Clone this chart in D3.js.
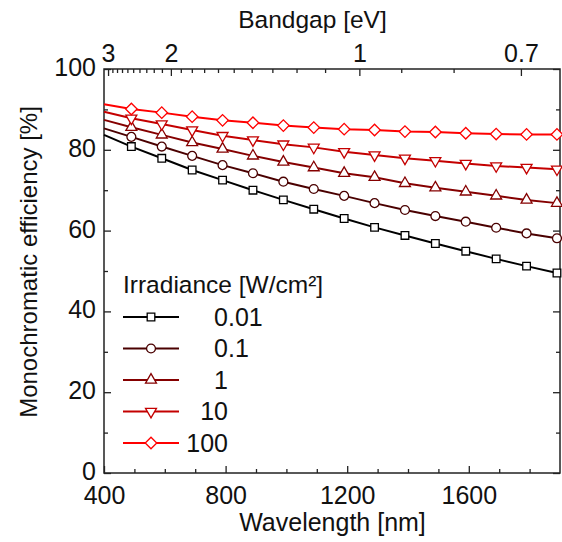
<!DOCTYPE html>
<html>
<head>
<meta charset="utf-8">
<script src="https://cdn.jsdelivr.net/npm/d3@7"></script>
<style>
  html, body { margin: 0; padding: 0; background: #fff; }
  svg { display: block; font-family: "Liberation Sans", Arial, sans-serif; }
</style>
</head>
<body>
<svg id="chart" width="562" height="542"></svg>
<script>
// ---------- data ----------
const wavelengths = [400, 490, 590, 690, 790, 890, 990, 1090, 1190, 1290, 1390, 1490, 1590, 1690, 1790, 1890];
const irradianceLabels = ["0.01", "0.1", "1", "10", "100"];
const eff001 = [83.7, 80.8, 77.9, 75.0, 72.5, 70.0, 67.6, 65.3, 63.0, 60.8, 58.8, 56.8, 54.9, 53.0, 51.2, 49.5];
const eff01  = [85.3, 83.2, 80.8, 78.5, 76.2, 74.2, 72.1, 70.3, 68.6, 66.8, 65.1, 63.6, 62.2, 60.7, 59.3, 58.1];
const eff1   = [87.4, 85.6, 83.7, 81.8, 80.2, 78.5, 77.0, 75.6, 74.2, 73.2, 71.7, 70.6, 69.6, 68.6, 67.6, 66.8];
const eff10  = [89.4, 87.8, 86.4, 84.9, 83.5, 82.4, 81.4, 80.6, 79.5, 78.7, 77.9, 77.3, 76.6, 76.0, 75.6, 75.2];
const eff100 = [91.3, 90.1, 89.2, 88.2, 87.3, 86.7, 86.0, 85.5, 85.1, 84.9, 84.5, 84.4, 84.1, 83.9, 83.8, 83.8];
const xTicks = [400, 800, 1200, 1600];
const xMinorTicks = [500, 600, 700, 900, 1000, 1100, 1300, 1400, 1500, 1700, 1800];
const yTicks = [0, 20, 40, 60, 80, 100];
const yMinorTicks = [10, 30, 50, 70, 90];
const eVTicks = [3, 2, 1, 0.7];
const eVTickLabels = ["3", "2", "1", "0.7"];
const eVMinorTicks = [2.9, 2.8, 2.7, 2.6, 2.5, 2.4, 2.3, 2.2, 2.1, 1.9, 1.8, 1.7, 1.6, 1.5, 1.4, 1.3, 1.2, 1.1, 0.9, 0.8];

// ---------- styles ----------
const seriesValues = [eff001, eff01, eff1, eff10, eff100];
const colors = ["#000000", "#4a0000", "#850000", "#c40000", "#ff0000"];
const shapes = ["square", "circle", "triangle", "triangleDown", "diamond"];

const svg = d3.select("#chart");
const L = 104, R = 560, T = 69, B = 473;
const x = d3.scaleLinear().domain([400, 1900]).range([L, R]);
const y = d3.scaleLinear().domain([0, 100]).range([B, T]);
const axisColor = "#222";
const tickFont = 25;

function styleAxis(g) {
  g.select(".domain").remove();
  g.selectAll(".tick line").attr("stroke", axisColor).attr("stroke-width", 1.3);
  g.selectAll(".tick text").attr("fill", "#111").attr("font-size", tickFont)
    .attr("font-family", "'Liberation Sans', Arial, sans-serif");
}

// bottom axis
svg.append("g").attr("transform", `translate(0,${B})`)
  .call(d3.axisBottom(x).tickValues(xTicks).tickFormat(d3.format("d")).tickSizeInner(-7).tickSizeOuter(0).tickPadding(13.5))
  .call(styleAxis);
svg.append("g").attr("transform", `translate(0,${B})`)
  .call(d3.axisBottom(x).tickValues(xMinorTicks).tickFormat("").tickSizeInner(-4).tickSizeOuter(0))
  .call(styleAxis);

// top axis (bandgap = 1240 / wavelength)
svg.append("g").attr("transform", `translate(0,${T})`)
  .call(d3.axisTop(x).tickValues(eVTicks.map(e => 1240 / e)).tickFormat((d, i) => eVTickLabels[i]).tickSizeInner(-7).tickSizeOuter(0).tickPadding(7))
  .call(styleAxis);
svg.append("g").attr("transform", `translate(0,${T})`)
  .call(d3.axisTop(x).tickValues(eVMinorTicks.map(e => 1240 / e)).tickFormat("").tickSizeInner(-4).tickSizeOuter(0))
  .call(styleAxis);

// left axis
svg.append("g").attr("transform", `translate(${L},0)`)
  .call(d3.axisLeft(y).tickValues(yTicks).tickFormat(d3.format("d")).tickSizeInner(-7).tickSizeOuter(0).tickPadding(8))
  .call(styleAxis)
  .call(g => g.selectAll(".tick text").attr("dy", "0.26em"));
svg.append("g").attr("transform", `translate(${L},0)`)
  .call(d3.axisLeft(y).tickValues(yMinorTicks).tickFormat("").tickSizeInner(-4).tickSizeOuter(0))
  .call(styleAxis);

// right axis (mirror)
svg.append("g").attr("transform", `translate(${R},0)`)
  .call(d3.axisRight(y).tickValues(yTicks).tickFormat("").tickSizeInner(-7).tickSizeOuter(0))
  .call(styleAxis);
svg.append("g").attr("transform", `translate(${R},0)`)
  .call(d3.axisRight(y).tickValues(yMinorTicks).tickFormat("").tickSizeInner(-4).tickSizeOuter(0))
  .call(styleAxis);

// frame
svg.append("rect").attr("x", L).attr("y", T).attr("width", R - L).attr("height", B - T)
  .attr("fill", "none").attr("stroke", axisColor).attr("stroke-width", 1.5);

// titles
svg.append("text").attr("x", 332.5).attr("y", 531).attr("text-anchor", "middle")
  .attr("font-size", 25).attr("fill", "#111").text("Wavelength [nm]");
svg.append("text").attr("x", 312.5).attr("y", 28).attr("text-anchor", "middle")
  .attr("font-size", 24.5).attr("fill", "#111").text("Bandgap [eV]");
svg.append("text").attr("transform", "translate(37,262) rotate(-90)").attr("text-anchor", "middle")
  .attr("font-size", 24).attr("fill", "#111").text("Monochromatic efficiency [%]");

// markers
function markerPath(shape) {
  switch (shape) {
    case "square": return d3.symbol(d3.symbolSquare, 58)();
    case "circle": return d3.symbol(d3.symbolCircle, 62)();
    case "triangle": return d3.symbol(d3.symbolTriangle, 52)();
    case "triangleDown": return d3.symbol(d3.symbolTriangle, 52)();
    case "diamond": return d3.symbol(d3.symbolSquare, 66)();
  }
}
function markerRot(shape) {
  if (shape === "triangleDown") return 180;
  if (shape === "diamond") return 45;
  return 0;
}

const line = d3.line().x(d => x(d[0])).y(d => y(d[1]));
const plot = svg.append("g");
seriesValues.forEach((vals, si) => {
  const pts = wavelengths.map((w, i) => [w, vals[i]]);
  plot.append("path").datum(pts).attr("d", line)
    .attr("fill", "none").attr("stroke", colors[si]).attr("stroke-width", 2);
});
seriesValues.forEach((vals, si) => {
  const pts = wavelengths.map((w, i) => [w, vals[i]]).slice(1);
  plot.selectAll(null).data(pts).enter().append("path")
    .attr("d", markerPath(shapes[si]))
    .attr("transform", d => `translate(${x(d[0])},${y(d[1])}) rotate(${markerRot(shapes[si])})`)
    .attr("fill", "#fff").attr("stroke", colors[si]).attr("stroke-width", 1.3);
});

// legend
const leg = svg.append("g");
leg.append("text").attr("x", 123).attr("y", 293).attr("font-size", 24.5).attr("fill", "#111")
  .text("Irradiance [W/cm²]");
irradianceLabels.forEach((lab, i) => {
  const ry = 317 + i * 31.5;
  leg.append("line").attr("x1", 123).attr("x2", 179).attr("y1", ry).attr("y2", ry)
    .attr("stroke", colors[i]).attr("stroke-width", 2);
  leg.append("path").attr("d", markerPath(shapes[i]))
    .attr("transform", `translate(151,${ry}) rotate(${markerRot(shapes[i])})`)
    .attr("fill", "#fff").attr("stroke", colors[i]).attr("stroke-width", 1.3);
  const parts = lab.split(".");
  leg.append("text").attr("x", 228).attr("y", ry + 8.5).attr("text-anchor", "end")
    .attr("font-size", 25).attr("fill", "#111").text(parts[0]);
  if (parts.length > 1) {
    leg.append("text").attr("x", 228).attr("y", ry + 8.5).attr("text-anchor", "start")
      .attr("font-size", 25).attr("fill", "#111").text("." + parts[1]);
  }
});
</script>
</body>
</html>
